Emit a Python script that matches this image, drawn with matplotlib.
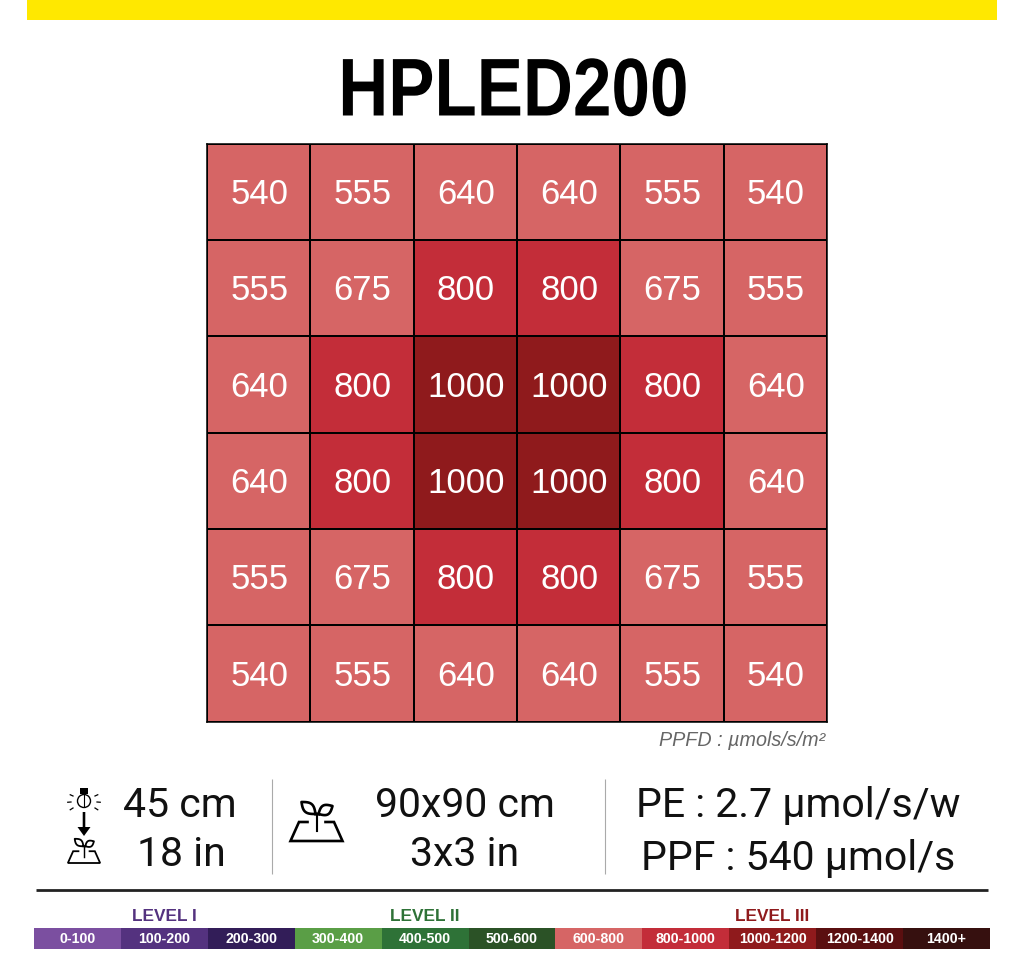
import numpy as np
import matplotlib
matplotlib.use('Agg')
import matplotlib.pyplot as plt
from matplotlib.colors import ListedColormap, BoundaryNorm
from matplotlib.patches import Rectangle, Circle, FancyArrow
from matplotlib.patheffects import AbstractPathEffect
from matplotlib.transforms import Affine2D

plt.rcParams['font.family'] = ['Liberation Sans', 'DejaVu Sans']

title = 'HPLED200'
ppfd = [
    [540, 555, 640, 640, 555, 540],
    [555, 675, 800, 800, 675, 555],
    [640, 800, 1000, 1000, 800, 640],
    [640, 800, 1000, 1000, 800, 640],
    [555, 675, 800, 800, 675, 555],
    [540, 555, 640, 640, 555, 540],
]
ppfd_note = 'PPFD : µmols/s/m²'
height_labels = ['45 cm', '18 in']
area_labels = ['90x90 cm', '3x3 in']
output_labels = ['PE : 2.7 µmol/s/w', 'PPF : 540 µmol/s']

scale_labels = ['0-100', '100-200', '200-300', '300-400', '400-500', '500-600',
                '600-800', '800-1000', '1000-1200', '1200-1400', '1400+']
scale_colors = ['#7B4FA0', '#54327F', '#321D58', '#5A9E46', '#2E7237', '#2B5226',
                '#D66565', '#C32D39', '#8F1A1C', '#5A0F10', '#36100F']
level_labels = ['LEVEL I', 'LEVEL II', 'LEVEL III']
level_colors = ['#54327F', '#2E7237', '#8F1A1C']

W, H = 1024, 970


class Squeeze(AbstractPathEffect):
    # narrows a text about a pixel x, no condensed bold font is installed
    def __init__(self, cx, sx):
        super().__init__()
        self.cx = cx
        self.sx = sx

    def draw_path(self, renderer, gc, tpath, affine, rgbFace=None):
        squeezed = affine + Affine2D().translate(-self.cx, 0).scale(self.sx, 1).translate(self.cx, 0)
        renderer.draw_path(gc, tpath, squeezed, rgbFace)


fig = plt.figure(figsize=(W / 100, H / 100), dpi=100, facecolor='white')

# page axes in pixels, y down
page = fig.add_axes([0, 0, 1, 1])
page.set_xlim(0, W)
page.set_ylim(H, 0)
page.axis('off')

page.add_patch(Rectangle((27, 0), 970, 20.5, color='#FFE800', lw=0))
page.text(513.5, 116.5, title, ha='center', va='baseline', fontsize=59, fontweight='bold',
          color='black', path_effects=[Squeeze(513.5, 0.845)])

# heat grid, colours from the 600-800 / 800-1000 / 1000-1200 bands
grid = fig.add_axes([207 / W, 1 - 722.5 / H, 620 / W, 578 / H])
bounds = [0, 800, 1000, 1200, 1400]
cmap = ListedColormap(['#D66565', '#C32D39', '#8F1A1C', '#5A0F10'])
norm = BoundaryNorm(bounds, cmap.N)
vals = np.array(ppfd)
grid.pcolormesh(vals, cmap=cmap, norm=norm, edgecolors='black', linewidth=1.1)
grid.set_ylim(6, 0)
grid.set_xticks([])
grid.set_yticks([])
for s in grid.spines.values():
    s.set_linewidth(1.1)
for r in range(6):
    for c in range(6):
        grid.text(c + 0.505, r + 0.52, str(ppfd[r][c]), ha='center', va='center',
                  color='white', fontsize=25)

page.text(825, 741, ppfd_note, ha='right', va='center', fontsize=14.2, style='italic', color='#666666')

# stat rows
stat_font = dict(ha='center', va='baseline', fontsize=29.5, color='#111111',
                 family=['Roboto', 'DejaVu Sans'])
page.text(180, 817, height_labels[0], **stat_font)
page.text(181, 866, height_labels[1], **stat_font)
page.text(465, 817, area_labels[0], **stat_font)
page.text(465, 866, area_labels[1], **stat_font)
page.text(798, 817, output_labels[0], **stat_font)
page.text(798, 870, output_labels[1], **stat_font)

for x in (272, 605):
    page.plot([x, x], [780, 875], color='#AAAAAA', lw=0.8, solid_capstyle='butt')
page.plot([36, 988], [890.5, 890.5], color='#222222', lw=2, solid_capstyle='butt')


def leaf(p0, p1, bulge, lw):
    t = np.linspace(0, 1, 30)
    p0, p1 = np.array(p0, float), np.array(p1, float)
    d = p1 - p0
    n = np.array([-d[1], d[0]]) / np.hypot(*d)
    mid = p0[None, :] + t[:, None] * d
    off = (bulge * np.sin(np.pi * t))[:, None] * n
    outline = np.r_[mid + off, (mid - off)[::-1]]
    page.plot(outline[:, 0], outline[:, 1], color='black', lw=lw)


def plant_icon(cx, base, s, lw):
    # tray outline with a gap behind the stem
    page.plot([cx - 9 * s, cx - 17.5 * s, cx - 26 * s, cx + 26 * s, cx + 17.5 * s, cx + 9 * s],
              [base - 19 * s, base - 19 * s, base, base, base - 19 * s, base - 19 * s],
              color='black', lw=lw, solid_joinstyle='miter')
    page.plot([cx, cx], [base - 10 * s, base - 26 * s], color='black', lw=lw * 0.8)
    leaf((cx - 1 * s, base - 27 * s), (cx - 15 * s, base - 39 * s), 5 * s, lw)
    leaf((cx + 2 * s, base - 27 * s), (cx + 16 * s, base - 35 * s), 5 * s, lw)


# bulb icon
page.add_patch(Circle((84, 802), 6.5, fill=False, ec='black', lw=1))
page.add_patch(Rectangle((80, 789), 8, 6, color='black', lw=0))
page.plot([84, 84], [796, 807], color='black', lw=0.8)
for dx, dy in [(-11, -5), (-13, 1), (-11, 7), (11, -5), (13, 1), (11, 7)]:
    page.plot([84 + dx, 84 + dx * 1.25], [802 + dy, 802 + dy * 1.25], color='black', lw=0.9)
page.add_patch(FancyArrow(84, 813, 0, 24, width=2.6, head_width=13, head_length=9,
                          length_includes_head=True, color='black', lw=0))
plant_icon(84, 864, 0.62, 1.3)
plant_icon(316.5, 842, 1.0, 1.9)

# level scale
x0, x1, y0, y1 = 34, 990, 928.5, 949.5
edges = np.linspace(x0, x1, len(scale_labels) + 1)
for i, lab in enumerate(scale_labels):
    page.add_patch(Rectangle((edges[i], y0), edges[i + 1] - edges[i], y1 - y0,
                             color=scale_colors[i], lw=0))
    page.text((edges[i] + edges[i + 1]) / 2, (y0 + y1) / 2, lab, ha='center', va='center',
              color='white', fontsize=10.2, fontweight='bold')
for i, lab in enumerate(level_labels):
    xc = [164, 425, 772][i]
    page.text(xc, 917, lab, ha='center', va='center', color=level_colors[i],
              fontsize=12.4, fontweight='bold')

fig.savefig('out.png', dpi=100)
